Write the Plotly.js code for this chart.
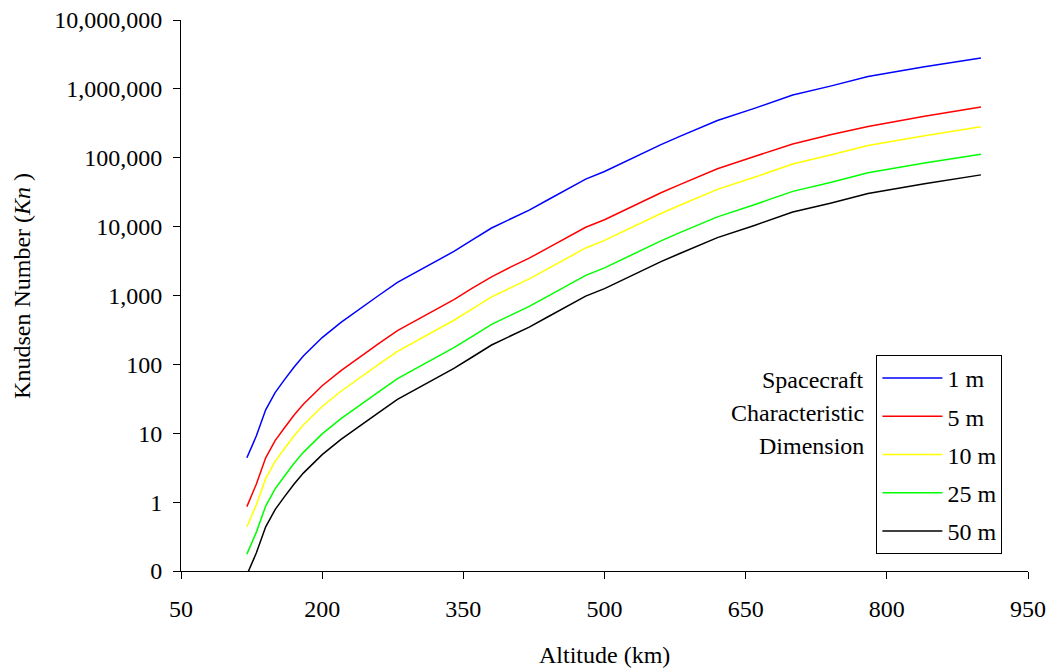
<!DOCTYPE html>
<html>
<head>
<meta charset="utf-8">
<script src="https://cdn.plot.ly/plotly-3.0.1.min.js"></script>
<style>html,body{margin:0;padding:0;background:#fff;}#chart{width:1050px;height:668px;}</style>
</head>
<body>
<div id="chart"></div>
<script>
// Altitude (km)
const altitude = [120,130,140,150,160,170,180,190,200,220,240,260,280,300,320,340,360,380,400,420,440,460,480,500,520,540,560,580,600,620,660,700,740,780,840,900];

// Knudsen number for each spacecraft characteristic dimension
const kn1m  = [4.4,9.1,21.9,38.9,60,91,132,182,245,407,646,1000,1549,2188,3090,4365,6457,9550,12880,17380,24550,34670,48980,63100,85110,117500,154900,204200,269200,346700,524800,812800,1096000,1514000,2089000,2818000];
const kn5m  = [0.86,1.82,4.4,7.8,12.0,18.2,26.4,36.4,49,81,129,200,310,438,618,873,1290,1860,2580,3480,4910,6930,9800,12600,17000,23500,31000,40800,53800,69300,105000,158000,215000,285000,400000,545000];
const kn10m = [0.44,0.91,2.19,3.9,6.0,9.1,13.2,18.2,24.5,40.7,64.6,100,155,219,309,437,646,955,1290,1740,2460,3470,4900,6310,8510,11750,15500,20400,26900,34700,52500,81300,110000,151000,209000,282000];
const kn25m = [0.176,0.364,0.876,1.56,2.4,3.64,5.28,7.28,9.8,16.3,25.8,40,62,87.5,124,175,258,382,515,695,982,1390,1960,2520,3400,4700,6200,8170,10770,13870,21000,32500,43800,60600,83600,112700];
const kn50m = [0.088,0.182,0.438,0.78,1.2,1.82,2.64,3.64,4.9,8.14,12.9,20,31,43.8,61.8,87.3,129,191,258,348,491,693,980,1260,1700,2350,3100,4080,5380,6930,10500,16300,21900,30300,41800,56400];

const seriesNames = ["1 m","5 m","10 m","25 m","50 m"];
const seriesColors = ["#0000FF","#FF0000","#FFFF00","#00FF00","#000000"];
const seriesData = [kn1m, kn5m, kn10m, kn25m, kn50m];

const xTickVals = [50,200,350,500,650,800,950];
const yTickVals = [0.1,1,10,100,1000,10000,100000,1000000,10000000];
const yTickText = ["0","1","10","100","1,000","10,000","100,000","1,000,000","10,000,000"];
const legendCaption = ["Spacecraft","Characteristic","Dimension"];

const FONT = "'Liberation Serif', 'Times New Roman', serif";
const FS = 24;

const traces = seriesData.map((d,i)=>({
  x: altitude, y: d, type: "scatter", mode: "lines",
  name: seriesNames[i], legendgroup: "g"+i,
  line: {color: seriesColors[i], width: 1.5}
}));

const captionY = [0.3466, 0.2868, 0.2269];
const captionAnn = legendCaption.map((t,i)=>({
  text: t, xref: "paper", yref: "paper", x: 0.809, y: captionY[i],
  xanchor: "right", yanchor: "middle", showarrow: false, font: {family: FONT, size: FS}
}));

const layout = {
  width: 1050, height: 668,
  margin: {l: 181, r: 22, t: 20, b: 97},
  paper_bgcolor: "#fff", plot_bgcolor: "#fff",
  font: {family: FONT, size: FS, color: "#000"},
  showlegend: true,
  legend: {
    x: 0.821, xanchor: "left", y: 0.392, yanchor: "top",
    bgcolor: "#fff", bordercolor: "#000", borderwidth: 1,
    font: {family: FONT, size: FS, color: "#000"},
    tracegroupgap: 4, traceorder: "grouped", itemwidth: 60
  },
  xaxis: {
    range: [50, 950], tickvals: xTickVals, ticktext: xTickVals.map(String),
    showgrid: false, zeroline: false, showline: true, linecolor: "#000", linewidth: 1,
    ticks: "outside", ticklen: 7, tickcolor: "#000", tickwidth: 1,
    ticklabelstandoff: 9, tickfont: {family: FONT, size: FS}
  },
  yaxis: {
    type: "log", range: [-1, 7], tickvals: yTickVals, ticktext: yTickText,
    showgrid: false, zeroline: false, showline: true, linecolor: "#000", linewidth: 1,
    ticks: "outside", ticklen: 7, tickcolor: "#000", tickwidth: 1,
    ticklabelstandoff: 6, tickfont: {family: FONT, size: FS}
  },
  annotations: [
    {text: "Altitude (km)", xref: "paper", yref: "paper", x: 0.5, y: -0.152,
     xanchor: "center", yanchor: "middle", showarrow: false, font: {family: FONT, size: FS}},
    {text: "Knudsen Number (<i>Kn</i> )", xref: "paper", yref: "paper", x: -0.188, y: 0.517,
     xanchor: "center", yanchor: "middle", textangle: -90, showarrow: false, font: {family: FONT, size: FS}}
  ].concat(captionAnn)
};

Plotly.newPlot("chart", traces, layout, {displayModeBar: false, staticPlot: true});
</script>
</body>
</html>
